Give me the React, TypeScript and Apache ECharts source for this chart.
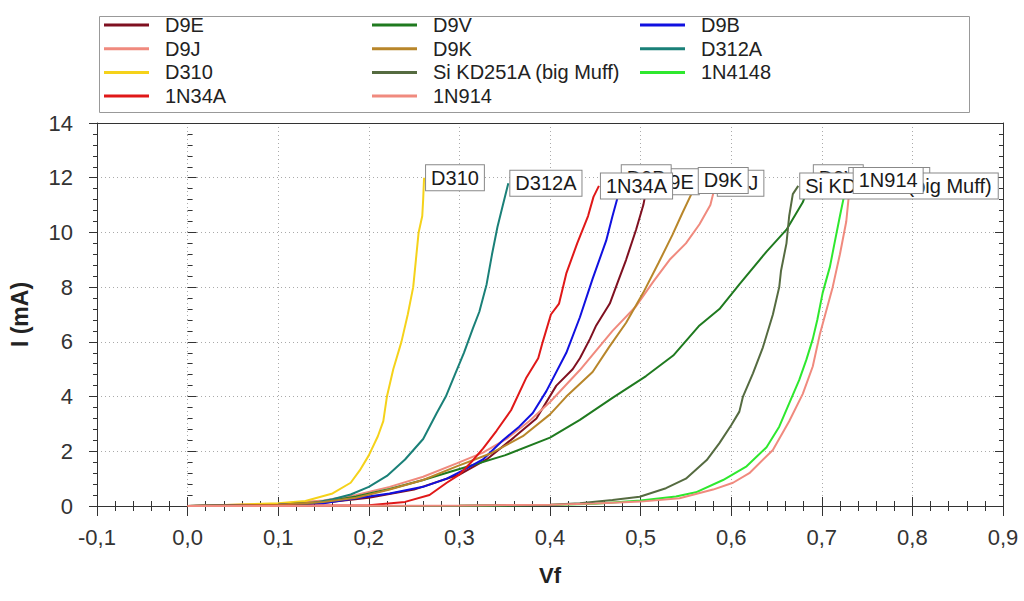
import React, { useEffect, useRef } from "react";
import * as echarts from "echarts";

type Pt = [number, number];

const D9E: Pt[] = [[0,0],[0.1,0.05],[0.15,0.12],[0.2,0.3],[0.25,0.6],[0.3,1.15],[0.33,1.7],[0.36,2.5],[0.385,3.2],[0.407,4.4],[0.425,5.0],[0.433,5.4],[0.444,6.1],[0.451,6.6],[0.466,7.4],[0.475,8.2],[0.484,9.0],[0.495,10.1],[0.503,11.0],[0.508,11.85]];
const D9J: Pt[] = [[0,0],[0.1,0.08],[0.15,0.2],[0.186,0.4],[0.223,0.7],[0.26,1.07],[0.297,1.56],[0.326,1.95],[0.352,2.45],[0.377,3.1],[0.4,3.8],[0.433,4.97],[0.469,6.4],[0.495,7.3],[0.514,8.2],[0.532,9.0],[0.55,9.6],[0.565,10.3],[0.577,11.0],[0.583,11.8]];
const D310: Pt[] = [[0,0],[0.05,0.05],[0.1,0.1],[0.13,0.18],[0.16,0.46],[0.18,0.85],[0.19,1.3],[0.2,1.85],[0.21,2.55],[0.216,3.1],[0.22,4.0],[0.227,5.0],[0.236,6.0],[0.243,7.0],[0.249,8.0],[0.252,9.0],[0.255,10.0],[0.259,10.6],[0.26,11.2],[0.261,12.0]];
const N1N34A: Pt[] = [[0,0],[0.1,0.01],[0.2,0.03],[0.24,0.15],[0.267,0.4],[0.286,0.85],[0.3,1.15],[0.313,1.6],[0.326,2.1],[0.341,2.75],[0.357,3.5],[0.374,4.7],[0.387,5.4],[0.392,6.0],[0.401,7.0],[0.41,7.4],[0.418,8.5],[0.43,9.6],[0.442,10.6],[0.448,11.3],[0.454,11.7]];
const D9V: Pt[] = [[0,0],[0.1,0.05],[0.15,0.15],[0.186,0.35],[0.223,0.62],[0.26,0.95],[0.29,1.25],[0.315,1.5],[0.35,1.85],[0.4,2.5],[0.433,3.15],[0.469,3.95],[0.506,4.75],[0.536,5.5],[0.565,6.6],[0.587,7.2],[0.609,8.1],[0.639,9.3],[0.661,10.1],[0.679,11.1],[0.689,12.0]];
const D9K: Pt[] = [[0,0],[0.1,0.05],[0.15,0.15],[0.186,0.3],[0.223,0.6],[0.26,0.95],[0.297,1.45],[0.333,1.9],[0.37,2.55],[0.4,3.35],[0.418,4.0],[0.447,4.9],[0.465,5.8],[0.484,6.7],[0.503,7.8],[0.52,8.9],[0.535,9.9],[0.546,10.7],[0.556,11.4],[0.562,11.9]];
const SIKD: Pt[] = [[0,0],[0.3,0.01],[0.4,0.05],[0.433,0.1],[0.469,0.22],[0.499,0.34],[0.528,0.65],[0.55,1.0],[0.573,1.68],[0.587,2.3],[0.6,2.95],[0.609,3.45],[0.613,4.0],[0.624,4.85],[0.635,5.8],[0.646,7.0],[0.653,8.0],[0.655,8.6],[0.661,9.6],[0.664,10.6],[0.668,11.4],[0.674,11.7]];
const N1N914: Pt[] = [[0,0],[0.2,0.01],[0.3,0.02],[0.4,0.05],[0.45,0.09],[0.5,0.16],[0.543,0.28],[0.58,0.6],[0.602,0.85],[0.62,1.2],[0.646,2.05],[0.664,3.1],[0.679,4.1],[0.69,5.1],[0.698,6.3],[0.705,7.15],[0.712,8.0],[0.72,9.2],[0.727,10.4],[0.73,11.4],[0.733,11.9]];
const D9B: Pt[] = [[0,0],[0.1,0.05],[0.15,0.1],[0.186,0.28],[0.223,0.46],[0.26,0.7],[0.286,1.0],[0.304,1.3],[0.326,1.7],[0.348,2.4],[0.366,2.9],[0.381,3.4],[0.396,4.2],[0.418,5.6],[0.433,6.9],[0.447,8.3],[0.462,9.7],[0.469,10.6],[0.474,11.2],[0.477,12.0]];
const D312A: Pt[] = [[0,0],[0.1,0.03],[0.13,0.06],[0.16,0.25],[0.18,0.42],[0.2,0.7],[0.22,1.1],[0.24,1.7],[0.26,2.45],[0.275,3.4],[0.285,4.0],[0.295,4.8],[0.305,5.6],[0.315,6.5],[0.322,7.1],[0.33,8.1],[0.336,9.2],[0.342,10.2],[0.348,11.0],[0.354,11.8]];
const N1N4148: Pt[] = [[0,0],[0.3,0.01],[0.4,0.04],[0.45,0.08],[0.5,0.2],[0.539,0.35],[0.561,0.5],[0.591,0.95],[0.617,1.45],[0.639,2.15],[0.653,2.9],[0.664,3.75],[0.675,4.6],[0.683,5.35],[0.69,6.1],[0.695,6.8],[0.701,7.8],[0.709,8.75],[0.714,9.6],[0.72,10.6],[0.725,11.4],[0.728,11.9]];

// Drawing order (controls end-label stacking)
const SERIES: { name: string; data: Pt[]; color: string }[] = [
  { name: "D9E", data: D9E, color: "#7f1020" },
  { name: "D9J", data: D9J, color: "#f08a7e" },
  { name: "D310", data: D310, color: "#f5d21a" },
  { name: "D9V", data: D9V, color: "#1f7a1f" },
  { name: "1N4148", data: N1N4148, color: "#2ee82e" },
  { name: "D9B", data: D9B, color: "#1010e0" },
  { name: "D312A", data: D312A, color: "#1a8078" },
  { name: "D9K", data: D9K, color: "#b8862a" },
  { name: "Si KD251A (big Muff)", data: SIKD, color: "#556b40" },
  { name: "1N34A", data: N1N34A, color: "#e01818" },
  { name: "1N914", data: N1N914, color: "#f08a7e" },
];

const LEGEND_COLS: string[][] = [
  ["D9E", "D9J", "D310", "1N34A"],
  ["D9V", "D9K", "Si KD251A (big Muff)", "1N914"],
  ["D9B", "D312A", "1N4148"],
];
const LEGEND_X = [104, 372, 640];

const X_MIN = -0.1, X_MAX = 0.9, X_STEP = 0.1;
const Y_MIN = 0, Y_MAX = 14, Y_STEP = 2;

const FONT = "Liberation Sans, Arial, sans-serif";

export default function App() {
  const ref = useRef<HTMLDivElement>(null);
  useEffect(() => {
    if (!ref.current) return;
    const chart = echarts.init(ref.current, undefined, { renderer: "svg" });
    const grid = { left: 97, right: 21, top: 123, bottom: 95 };
    const tickStyle = { color: "#333", width: 1 };
    const baseX = { type: "value", min: X_MIN, max: X_MAX, interval: X_STEP };
    const baseY = { type: "value", min: Y_MIN, max: Y_MAX, interval: Y_STEP };
    const option: any = {
      animation: false,
      backgroundColor: "#fff",
      textStyle: { fontFamily: FONT },
      grid,
      legend: LEGEND_COLS.map((col, i) => ({
        orient: "vertical",
        left: LEGEND_X[i],
        top: 15,
        padding: 0,
        data: col,
        icon: "rect",
        itemWidth: 45,
        itemHeight: 3,
        itemGap: 3.7,
        selectedMode: false,
        textStyle: { fontSize: 20, color: "#222", fontFamily: FONT, lineHeight: 20, padding: [0, 0, 0, 11] },
      })),
      graphic: [
        { type: "rect", left: 97, top: 14, shape: { width: 870, height: 96 }, style: { fill: "none", stroke: "#999", lineWidth: 1 }, silent: true },
      ],
      xAxis: [
        {
          ...baseX,
          position: "bottom",
          name: "Vf",
          nameLocation: "middle",
          nameGap: 58,
          nameTextStyle: { fontSize: 22, fontWeight: "bold", color: "#222", fontFamily: FONT },
          axisLine: { show: true, onZero: false, lineStyle: { color: "#333" } },
          axisTick: { show: true, inside: false, length: 10, lineStyle: tickStyle },
          minorTick: { show: true, splitNumber: 5, length: 5, lineStyle: tickStyle },
          axisLabel: { fontSize: 22, color: "#333", margin: 20, fontFamily: FONT, formatter: (v: number) => v.toFixed(1).replace(".", ",") },
          splitLine: { show: true, lineStyle: { color: "#aaa", type: [1, 3] } },
        },
        {
          ...baseX,
          position: "bottom",
          axisLine: { show: false },
          axisTick: { show: true, inside: true, length: 9, lineStyle: tickStyle },
          minorTick: { show: true, splitNumber: 5, length: 5, lineStyle: tickStyle },
          axisLabel: { show: false },
          splitLine: { show: false },
        },
        {
          ...baseX,
          position: "top",
          axisLine: { show: true, onZero: false, lineStyle: { color: "#333" } },
          axisTick: { show: false },
          axisLabel: { show: false },
          splitLine: { show: false },
        },
      ],
      yAxis: [
        {
          ...baseY,
          position: "left",
          name: "I (mA)",
          nameLocation: "middle",
          nameGap: 66,
          nameTextStyle: { fontSize: 23, fontWeight: "bold", color: "#222", fontFamily: FONT },
          axisLine: { show: true, onZero: false, lineStyle: { color: "#333" } },
          axisTick: { show: true, inside: false, length: 8, lineStyle: tickStyle },
          minorTick: { show: true, splitNumber: 5, length: 4, lineStyle: tickStyle },
          axisLabel: { fontSize: 22, color: "#333", margin: 24, fontFamily: FONT },
          splitLine: { show: true, lineStyle: { color: "#aaa", type: [1, 3] } },
        },
        {
          ...baseY,
          position: "left",
          axisLine: { show: false },
          axisTick: { show: true, inside: true, length: 9, lineStyle: tickStyle },
          minorTick: { show: true, splitNumber: 5, length: 5, lineStyle: tickStyle },
          axisLabel: { show: false },
          splitLine: { show: false },
        },
        {
          ...baseY,
          position: "right",
          axisLine: { show: true, onZero: false, lineStyle: { color: "#333" } },
          axisTick: { show: true, inside: true, length: 8, lineStyle: tickStyle },
          minorTick: { show: true, splitNumber: 5, length: 4, lineStyle: tickStyle },
          axisLabel: { show: false },
          splitLine: { show: false },
        },
      ],
      series: SERIES.map((s) => ({
        type: "line",
        name: s.name,
        data: s.data,
        xAxisIndex: 0,
        yAxisIndex: 0,
        showSymbol: false,
        symbol: "none",
        color: s.color,
        lineStyle: { color: s.color, width: 2 },
        itemStyle: { color: s.color },
        endLabel: {
          show: true,
          formatter: (p: any) => p.seriesName,
          fontSize: 20,
          fontFamily: FONT,
          color: "#1a1a1a",
          backgroundColor: "#fff",
          borderColor: "#888",
          borderWidth: 1,
          padding: [3, 5, 2, 5],
          distance: 2,
        },
      })),
    };
    chart.setOption(option);
    return () => chart.dispose();
  }, []);
  return <div ref={ref} style={{ position: "fixed", left: 0, top: 0, width: 1024, height: 601 }} />;
}
